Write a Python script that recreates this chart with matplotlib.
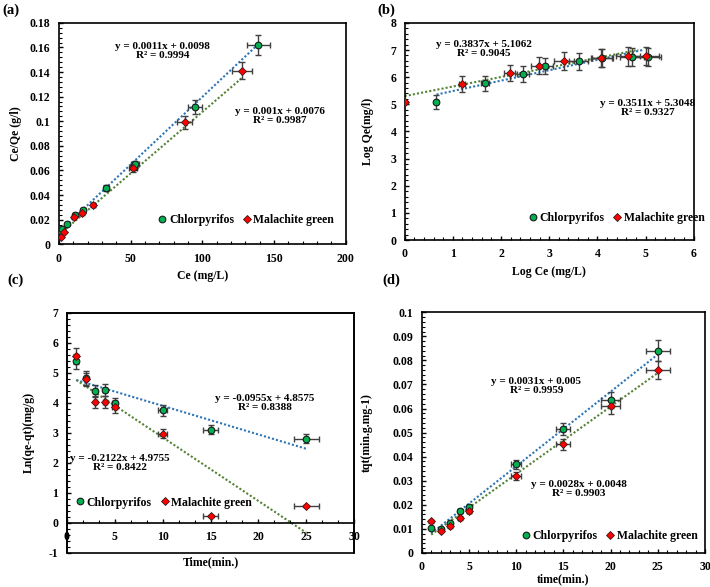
import numpy as np
import matplotlib
matplotlib.use("Agg")
import matplotlib.pyplot as plt
from matplotlib.ticker import MultipleLocator, FuncFormatter
from matplotlib.patches import Rectangle

plt.rcParams['font.family'] = ['Liberation Serif', 'DejaVu Serif']
plt.rcParams['font.weight'] = 'bold'
plt.rcParams['axes.labelweight'] = 'bold'
plt.rcParams['font.size'] = 8.5

GREEN = '#00B050'
RED = '#FF0000'
BLUE_LINE = '#2E75B6'
GREEN_LINE = '#548235'
ERR = '#404040'

# (a) Langmuir
a_cp_x = [1.4, 1.9, 5.3, 11, 17, 33, 52, 53, 95, 139]
a_cp_y = [0.011, 0.0122, 0.0163, 0.024, 0.028, 0.0456, 0.063, 0.065, 0.1116, 0.162]
a_cp_xerr = [0.1, 0.1, 0.3, 0.6, 0.9, 1.6, 2.6, 2.7, 5, 8]
a_cp_yerr = [0.0006, 0.0006, 0.0008, 0.0012, 0.0014, 0.0023, 0.003, 0.003, 0.006, 0.008]
a_mg_x = [1.4, 3.7, 10.4, 15.8, 24, 51.7, 87.6, 127.7]
a_mg_y = [0.0062, 0.0098, 0.022, 0.0253, 0.032, 0.062, 0.099, 0.141]
a_mg_xerr = [0.1, 0.2, 0.5, 0.8, 1.2, 3, 5, 7]
a_mg_yerr = [0.0003, 0.0005, 0.0011, 0.0013, 0.0016, 0.003, 0.005, 0.007]
a_fit_cp = (0.0011, 0.0098, 0.5, 140)
a_fit_mg = (0.001, 0.0076, 0.5, 128)

# (b) Freundlich
b_cp_x = [0.66, 1.66, 2.46, 2.92, 3.61, 4.10, 4.71, 5.05]
b_cp_y = [5.08, 5.78, 6.13, 6.40, 6.58, 6.71, 6.74, 6.74]
b_cp_xerr = [0.03, 0.08, 0.12, 0.15, 0.2, 0.22, 0.25, 0.28]
b_cp_yerr = [0.25, 0.28, 0.3, 0.3, 0.32, 0.33, 0.33, 0.33]
b_mg_x = [0.0, 1.19, 2.18, 2.79, 3.31, 4.08, 4.64, 5.02]
b_mg_y = [5.08, 5.76, 6.15, 6.42, 6.61, 6.71, 6.77, 6.79]
b_mg_xerr = [0.0, 0.06, 0.11, 0.16, 0.21, 0.22, 0.25, 0.27]
b_mg_yerr = [0.05, 0.3, 0.3, 0.32, 0.33, 0.33, 0.34, 0.34]
b_fit_cp = (0.3837, 5.1062, 0.66, 4.95)
b_fit_mg = (0.3511, 5.3048, 0.0, 4.85)

# (c) pseudo-first order
c_t = [1, 2, 3, 4, 5, 10, 15, 25]
c_cp_y = [5.39, 4.83, 4.41, 4.44, 4.0, 3.76, 3.11, 2.81]
c_mg_y = [5.56, 4.78, 4.02, 4.02, 3.86, 2.98, 0.22, 0.56]
c_terr = [0.05, 0.1, 0.15, 0.2, 0.25, 0.5, 0.8, 1.3]
c_cp_yerr = [0.25, 0.22, 0.2, 0.2, 0.18, 0.18, 0.15, 0.14]
c_mg_yerr = [0.26, 0.22, 0.2, 0.2, 0.18, 0.15, 0.03, 0.03]
c_fit_cp = (-0.0955, 4.8575, 1, 25)
c_fit_mg = (-0.2122, 4.9755, 1, 25)

# (d) pseudo-second order
d_t = [1, 2, 3, 4, 5, 10, 15, 20, 25]
d_cp_y = [0.0104, 0.0100, 0.0124, 0.0173, 0.0191, 0.0368, 0.0515, 0.0636, 0.0841]
d_mg_y = [0.0131, 0.0091, 0.0111, 0.0145, 0.0176, 0.0321, 0.0452, 0.0609, 0.0761]
d_terr = [0.05, 0.1, 0.15, 0.2, 0.25, 0.5, 0.75, 1.0, 1.25]
d_cp_yerr = [0.0005, 0.0005, 0.0006, 0.0009, 0.001, 0.0019, 0.0026, 0.0032, 0.0042]
d_mg_yerr = [0.0007, 0.0005, 0.0006, 0.0007, 0.0009, 0.0016, 0.0023, 0.003, 0.0038]
d_fit_cp = (0.0031, 0.005, 1, 25)
d_fit_mg = (0.0028, 0.0048, 1, 25)

fig = plt.figure(figsize=(7.1, 5.87), dpi=100)
fmt = FuncFormatter(lambda v, p: '%g' % round(v, 6))


def style(ax, xlim, ylim, xmaj, ymaj):
    ax.set_xlim(*xlim)
    ax.set_ylim(*ylim)
    ax.xaxis.set_major_locator(MultipleLocator(xmaj))
    ax.yaxis.set_major_locator(MultipleLocator(ymaj))
    ax.xaxis.set_minor_locator(MultipleLocator(xmaj / 5))
    ax.yaxis.set_minor_locator(MultipleLocator(ymaj / 5))
    ax.xaxis.set_major_formatter(fmt)
    ax.yaxis.set_major_formatter(fmt)
    ax.tick_params(which='major', direction='in', length=3, width=1, pad=6,
                   labelsize=8.5)
    ax.tick_params(which='minor', direction='in', length=2, width=0.8)
    for s in ax.spines.values():
        s.set_linewidth(1.2)


def draw(ax, x1, y1, x1e, y1e, x2, y2, x2e, y2e, fit1, fit2):
    m, b, lo, hi = fit1
    xx = np.array([lo, hi])
    ax.plot(xx, m * xx + b, color=BLUE_LINE, lw=1.5, ls=(0, (1, 1)), zorder=2)
    m, b, lo, hi = fit2
    xx = np.array([lo, hi])
    ax.plot(xx, m * xx + b, color=GREEN_LINE, lw=1.5, ls=(0, (1, 1)), zorder=2)
    ax.errorbar(x1, y1, xerr=x1e, yerr=y1e, fmt='none', ecolor=ERR, elinewidth=1,
                capsize=2.5, capthick=1, zorder=3)
    ax.errorbar(x2, y2, xerr=x2e, yerr=y2e, fmt='none', ecolor=ERR, elinewidth=1,
                capsize=2.5, capthick=1, zorder=3)
    ax.plot(x1, y1, 'o', ms=4.8, mfc=GREEN, mec='#1a1a1a', mew=0.8, ls='none',
            zorder=4, label='Chlorpyrifos')
    ax.plot(x2, y2, 'D', ms=3.6, mfc=RED, mec='#3a1a1a', mew=0.6, ls='none',
            zorder=5, label='Malachite green')


def legend(ax, cx, cy):
    ax.legend(loc='center', bbox_to_anchor=(cx, cy), ncol=2, frameon=False,
              handletextpad=0.05, columnspacing=0.6, handlelength=1.0,
              borderpad=0.2, prop={'size': 8.5, 'weight': 'bold'})


def eq(ax, x, y, text):
    ax.text(x, y, text, ha='center', va='center', fontsize=8, fontweight='bold',
            multialignment='center', linespacing=1.0)


# (a)
ax = fig.add_axes([0.083, 0.584, 0.404, 0.377])
draw(ax, a_cp_x, a_cp_y, a_cp_xerr, a_cp_yerr, a_mg_x, a_mg_y, a_mg_xerr, a_mg_yerr,
     a_fit_cp, a_fit_mg)
style(ax, (0, 200), (0, 0.18), 50, 0.02)
ax.set_xlabel('Ce (mg/L)', fontsize=8.5, labelpad=4)
ax.set_ylabel('Ce/Qe (g/l)', fontsize=8.5, labelpad=6)
eq(ax, 72.5, 0.157, 'y = 0.0011x + 0.0098\nR² = 0.9994')
eq(ax, 154, 0.1043, 'y = 0.001x + 0.0076\nR² = 0.9987')
legend(ax, 0.65, 0.11)

# (b)
ax = fig.add_axes([0.570, 0.591, 0.407, 0.370])
draw(ax, b_cp_x, b_cp_y, b_cp_xerr, b_cp_yerr, b_mg_x, b_mg_y, b_mg_xerr, b_mg_yerr,
     b_fit_cp, b_fit_mg)
style(ax, (0, 6), (0, 8), 1, 1)
ax.set_xlabel('Log Ce (mg/L)', fontsize=8.5, labelpad=4)
ax.set_ylabel('Log Qe(mg/l)', fontsize=8.5, labelpad=12)
eq(ax, 1.65, 7.04, 'y = 0.3837x + 5.1062\nR² = 0.9045')
eq(ax, 5.04, 4.88, 'y = 0.3511x + 5.3048\nR² = 0.9327')
legend(ax, 0.73, 0.10)

# (c)
ax = fig.add_axes([0.094, 0.058, 0.405, 0.409])
draw(ax, c_t, c_cp_y, c_terr, c_cp_yerr, c_t, c_mg_y, c_terr, c_mg_yerr,
     c_fit_cp, c_fit_mg)
style(ax, (0, 30), (-1, 7), 5, 1)
ax.spines['bottom'].set_position(('data', 0))
ax.tick_params(axis='x', which='major', pad=6)
ax.xaxis.set_minor_locator(MultipleLocator(5 / 3))
ax.add_patch(Rectangle((0, 0), 1, 1, transform=ax.transAxes, fill=False,
                       lw=1.2, ec='black', clip_on=False, zorder=6))
ax.set_xlabel('Time(min.)', fontsize=8.5)
ax.xaxis.set_label_coords(0.5, -0.015)
ax.set_ylabel('Ln(qe-qt)(mg/g)', fontsize=8.5, labelpad=10)
eq(ax, 20.65, 4.01, 'y = -0.0955x + 4.8575\nR² = 0.8388')
eq(ax, 5.5, 1.99, 'y = -0.2122x + 4.9755\nR² = 0.8422')
legend(ax, 0.335, 0.21)

# (d)
ax = fig.add_axes([0.594, 0.058, 0.399, 0.410])
draw(ax, d_t, d_cp_y, d_terr, d_cp_yerr, d_t, d_mg_y, d_terr, d_mg_yerr,
     d_fit_cp, d_fit_mg)
style(ax, (0, 30), (0, 0.1), 5, 0.01)
ax.set_xlabel('time(min.)', fontsize=8.5)
ax.xaxis.set_label_coords(0.5, -0.085)
ax.set_ylabel('tqt(min.g.mg-1)', fontsize=8.5, labelpad=14)
eq(ax, 12.15, 0.0692, 'y = 0.0031x + 0.005\nR² = 0.9959')
eq(ax, 16.65, 0.0265, 'y = 0.0028x + 0.0048\nR² = 0.9903')
legend(ax, 0.66, 0.07)

for lab, x, y in [('(a)', 0.003, 0.983), ('(b)', 0.532, 0.983),
                  ('(c)', 0.010, 0.523), ('(d)', 0.538, 0.523)]:
    fig.text(x, y, lab, fontsize=10.5, fontweight='bold', va='center', ha='left')

fig.savefig('out.png', dpi=100)
